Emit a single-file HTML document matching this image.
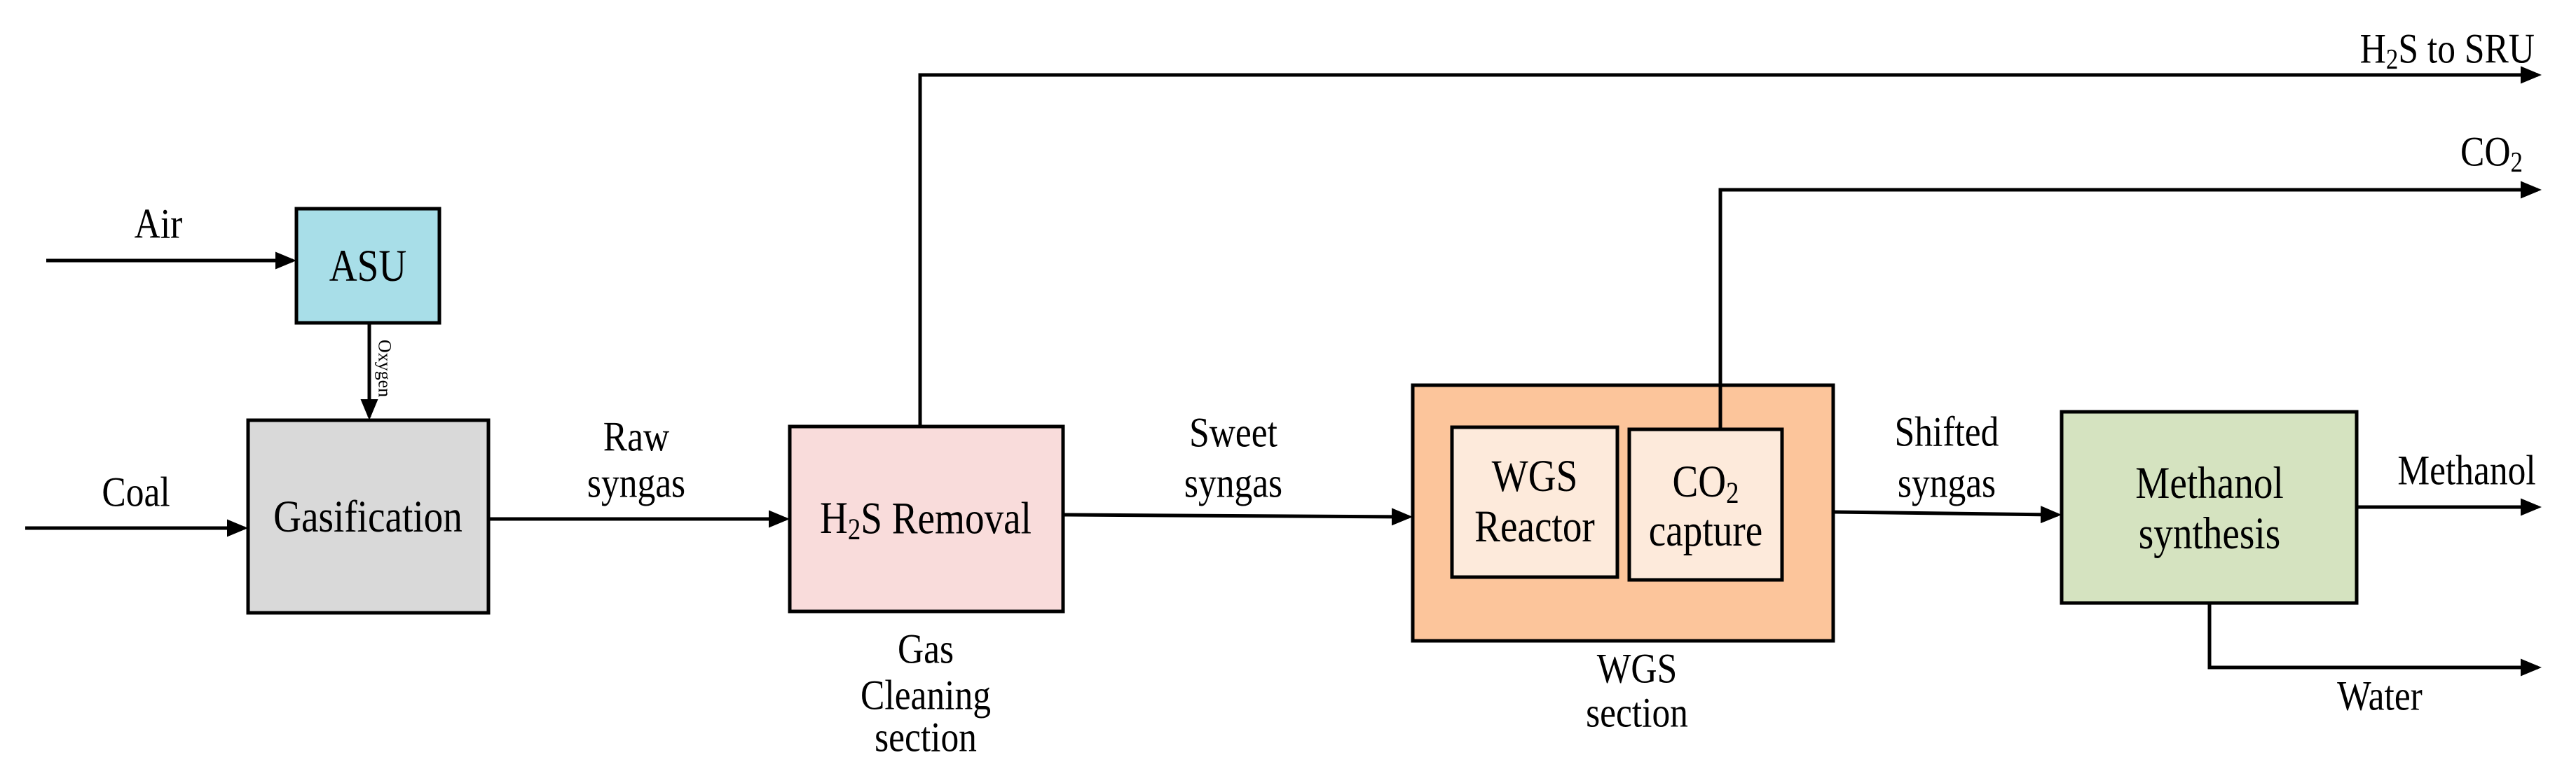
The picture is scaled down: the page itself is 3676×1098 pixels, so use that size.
<!DOCTYPE html>
<html><head><meta charset="utf-8"><style>
html,body{margin:0;padding:0;background:#fff;}
svg{display:block;}
text{font-family:"Liberation Serif","Times New Roman","DejaVu Serif",serif;fill:#000;}
</style></head><body>
<svg width="3676" height="1098" viewBox="0 0 3676 1098" xmlns="http://www.w3.org/2000/svg" font-family="Liberation Serif, Times New Roman, DejaVu Serif, serif">
<defs>
<marker id="a" markerWidth="6" markerHeight="6" refX="5" refY="3" orient="auto" markerUnits="strokeWidth">
<path d="M0,0.5 L6,3 L0,5.5 z" fill="#000"/>
</marker>
</defs>
<g stroke="#000" stroke-width="5" fill="none">
<rect x="423" y="298" width="204" height="163" fill="#a8dee8"/>
<rect x="354" y="600" width="343" height="275" fill="#d9d9d9"/>
<rect x="1127" y="609" width="390" height="264" fill="#f9dcdb"/>
<rect x="2016" y="550" width="600" height="365" fill="#fcc59b"/>
<rect x="2072" y="610" width="236" height="214" fill="#fdeadb"/>
<rect x="2325" y="613" width="218" height="215" fill="#fdeadb"/>
<rect x="2942" y="588" width="421" height="273" fill="#d5e3c0"/>
<line x1="66" y1="372" x2="418" y2="372" marker-end="url(#a)"/>
<line x1="527" y1="461" x2="527" y2="595" marker-end="url(#a)"/>
<line x1="36" y1="754" x2="349" y2="754" marker-end="url(#a)"/>
<line x1="697" y1="741" x2="1122" y2="741" marker-end="url(#a)"/>
<line x1="1517" y1="735" x2="2011" y2="738" marker-end="url(#a)"/>
<line x1="2616" y1="731" x2="2937" y2="735" marker-end="url(#a)"/>
<line x1="3363" y1="724" x2="3622" y2="724" marker-end="url(#a)"/>
<polyline points="1313,609 1313,107 3622,107" marker-end="url(#a)"/>
<polyline points="2455,613 2455,271 3622,271" marker-end="url(#a)"/>
<polyline points="3153,861 3153,953 3622,953" marker-end="url(#a)"/>
</g>
<g text-anchor="middle" dominant-baseline="central">
<text transform="translate(525,380) scale(0.92,1.08)" font-size="60">ASU</text>
<text transform="translate(525,738) scale(0.92,1.08)" font-size="60">Gasification</text>
<text transform="translate(1321,740) scale(0.92,1.08)" font-size="60">H<tspan font-size="40" dy="14">2</tspan><tspan dy="-14">S Removal</tspan></text>
<text transform="translate(2190,680) scale(0.92,1.08)" font-size="60">WGS</text>
<text transform="translate(2190,752) scale(0.92,1.08)" font-size="60">Reactor</text>
<text transform="translate(2434,688) scale(0.92,1.08)" font-size="60">CO<tspan font-size="40" dy="14">2</tspan></text>
<text transform="translate(2434,758) scale(0.92,1.08)" font-size="60">capture</text>
<text transform="translate(3153,690) scale(0.92,1.08)" font-size="60">Methanol</text>
<text transform="translate(3153,762) scale(0.92,1.08)" font-size="60">synthesis</text>
<text transform="translate(226,320) scale(0.92,1.08)" font-size="56">Air</text>
<text transform="translate(194,703) scale(0.92,1.08)" font-size="56">Coal</text>
<text transform="translate(908,624) scale(0.92,1.08)" font-size="56">Raw</text>
<text transform="translate(908,690) scale(0.92,1.08)" font-size="56">syngas</text>
<text transform="translate(1760,618) scale(0.92,1.08)" font-size="56">Sweet</text>
<text transform="translate(1760,690) scale(0.92,1.08)" font-size="56">syngas</text>
<text transform="translate(2778,617) scale(0.92,1.08)" font-size="56">Shifted</text>
<text transform="translate(2778,690) scale(0.92,1.08)" font-size="56">syngas</text>
<text transform="translate(3520,672) scale(0.92,1.08)" font-size="56">Methanol</text>
<text transform="translate(3396,994) scale(0.92,1.08)" font-size="56">Water</text>
<text transform="translate(1321,927) scale(0.92,1.08)" font-size="56">Gas</text>
<text transform="translate(1321,993) scale(0.92,1.08)" font-size="56">Cleaning</text>
<text transform="translate(1321,1053) scale(0.92,1.08)" font-size="56">section</text>
<text transform="translate(2336,955) scale(0.92,1.08)" font-size="56">WGS</text>
<text transform="translate(2336,1018) scale(0.92,1.08)" font-size="56">section</text>
<text transform="translate(549,526) rotate(90)" font-size="26">Oxygen</text>
</g>
<g text-anchor="end" dominant-baseline="central">
<text transform="translate(3617,70) scale(0.92,1.08)" font-size="56">H<tspan font-size="38" dy="14">2</tspan><tspan dy="-14">S to SRU</tspan></text>
<text transform="translate(3600,217) scale(0.92,1.08)" font-size="56">CO<tspan font-size="38" dy="14">2</tspan></text>
</g>
</svg>
</body></html>
